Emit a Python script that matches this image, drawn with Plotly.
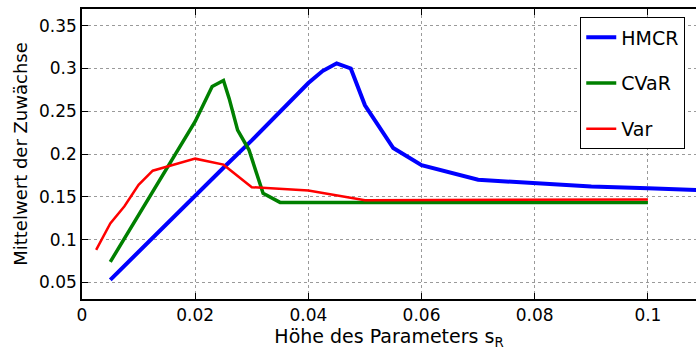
import plotly.graph_objects as go

# Data
hmcr_x = [0.005, 0.02, 0.025, 0.03, 0.035, 0.04, 0.0425, 0.045, 0.0475, 0.05, 0.055, 0.06, 0.07, 0.08, 0.09, 0.1, 0.11]
hmcr_y = [0.053, 0.152, 0.184, 0.216, 0.250, 0.283, 0.297, 0.306, 0.300, 0.257, 0.207, 0.187, 0.170, 0.166, 0.162, 0.160, 0.1575]

cvar_x = [0.005, 0.02, 0.023, 0.025, 0.026, 0.0275, 0.0295, 0.032, 0.035, 0.1]
cvar_y = [0.074, 0.238, 0.279, 0.286, 0.265, 0.228, 0.205, 0.154, 0.1435, 0.1435]

var_x = [0.0025, 0.005, 0.0075, 0.01, 0.0125, 0.02, 0.025, 0.03, 0.04, 0.05, 0.1]
var_y = [0.088, 0.119, 0.139, 0.164, 0.1805, 0.1946, 0.1876, 0.1613, 0.1574, 0.146, 0.147]

x_ticks = [0, 0.02, 0.04, 0.06, 0.08, 0.1]
x_ticklabels = ["0", "0.02", "0.04", "0.06", "0.08", "0.1"]
y_ticks = [0.05, 0.1, 0.15, 0.2, 0.25, 0.3, 0.35]
y_ticklabels = ["0.05", "0.1", "0.15", "0.2", "0.25", "0.3", "0.35"]

FONT = "DejaVu Sans"

fig = go.Figure()
fig.add_trace(go.Scatter(x=hmcr_x, y=hmcr_y, mode="lines", name="HMCR",
                         legendgroup="a", line=dict(color="#0000FF", width=4)))
fig.add_trace(go.Scatter(x=cvar_x, y=cvar_y, mode="lines", name="CVaR",
                         legendgroup="b", line=dict(color="#008000", width=3.5)))
fig.add_trace(go.Scatter(x=var_x, y=var_y, mode="lines", name="Var",
                         legendgroup="c", line=dict(color="#FF0000", width=2.5)))

fig.update_layout(
    width=696, height=354,
    margin=dict(l=82, r=0, t=9, b=55),
    paper_bgcolor="white", plot_bgcolor="white",
    font=dict(family=FONT, size=18, color="black"),
    showlegend=True,
    legend=dict(x=0.811, y=0.972, xanchor="left", yanchor="top",
                bgcolor="white", bordercolor="black", borderwidth=1.3,
                font=dict(size=19), tracegroupgap=18,
                itemwidth=30),
    xaxis=dict(range=[0, 0.1085], tickvals=x_ticks, ticktext=x_ticklabels,
               showline=True, linecolor="black", linewidth=1.5, mirror="ticks",
               ticks="inside", ticklen=6, tickcolor="black", tickwidth=1,
               showgrid=True, gridcolor="#9a9a9a", griddash="dot", gridwidth=1,
               zeroline=False,
               title=dict(text="Höhe des Parameters s<sub>R</sub>", standoff=2,
                          font=dict(size=19)),
               tickfont=dict(size=17)),
    yaxis=dict(range=[0.0306, 0.3695], tickvals=y_ticks, ticktext=y_ticklabels,
               showline=True, linecolor="black", linewidth=1.5, mirror=False,
               ticks="inside", ticklen=6, tickcolor="black", tickwidth=1,
               showgrid=True, gridcolor="#9a9a9a", griddash="dot", gridwidth=1,
               zeroline=False,
               title=dict(text="Mittelwert der Zuwächse", standoff=7,
                          font=dict(size=18)),
               tickfont=dict(size=17)),
)

fig.write_html("out.html")
